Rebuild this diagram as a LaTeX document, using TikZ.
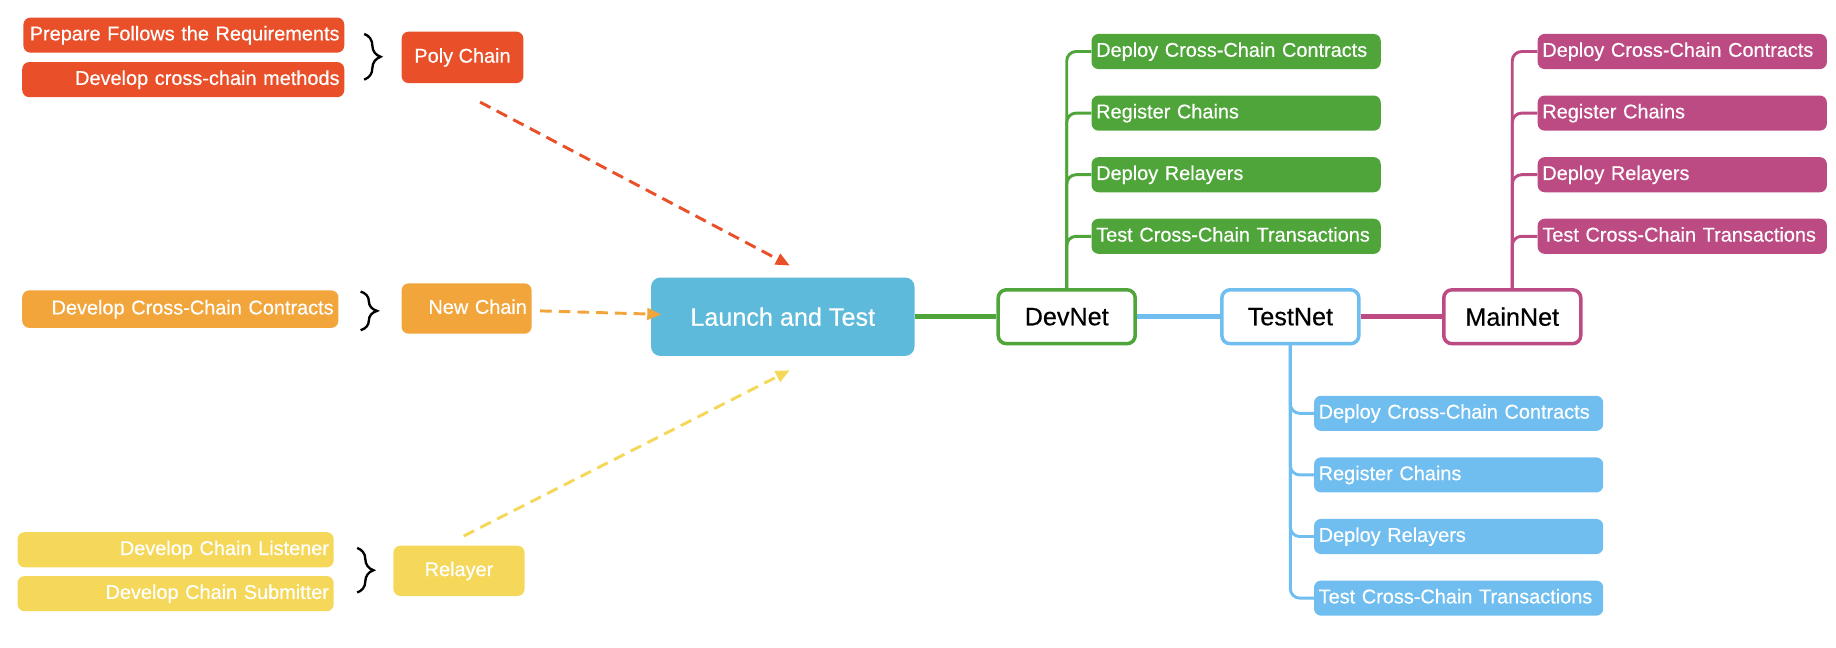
\documentclass[tikz,border=0pt]{standalone}
\usepackage{fontspec}
\setmainfont{Liberation Sans}[FakeBold=0.4]
\usepackage{tikz}
\usetikzlibrary{arrows.meta,decorations.pathreplacing}
\definecolor{polyred}{RGB}{233,80,42}
\definecolor{neworange}{RGB}{241,165,59}
\definecolor{relayyellow}{RGB}{245,216,90}
\definecolor{launchblue}{RGB}{93,186,219}
\definecolor{devgreen}{RGB}{80,165,58}
\definecolor{testblue}{RGB}{112,190,240}
\definecolor{mainpink}{RGB}{188,75,132}
\tikzstyle{box}=[rounded corners=6pt,text=white,inner sep=4pt,text height=12.5pt,text depth=3.5pt,font=\fontsize{17}{19}\selectfont]
\tikzstyle{item}=[box,minimum height=30pt,align=right]
\tikzstyle{chain}=[box,minimum height=44pt]
\tikzstyle{net}=[draw,fill=white,line width=3pt,rounded corners=7pt,minimum width=117pt,minimum height=46pt,font=\fontsize{21.5}{24}\selectfont]
\tikzstyle{task}=[box,anchor=west,minimum height=30pt,text width=239pt,align=left]
\tikzstyle{branch}=[line width=2.5pt,rounded corners=8pt]
\tikzstyle{link}=[line width=4.5pt]
\tikzstyle{flow}=[line width=2.5pt,dash pattern=on 10pt off 6pt,-{Triangle[length=12pt,width=10pt]}]
\tikzstyle{curly}=[decorate,decoration={brace,amplitude=14pt},line width=2pt]

\begin{document}
\begin{tikzpicture}[x=1pt,y=-1pt]
    \useasboundingbox (0,0) rectangle (1568,553.4);
    % sources
    \node[item,fill=polyred,text width=266pt] (prep) at (157,30) {Prepare Follows the Requirements};
    \node[item,fill=polyred,text width=267pt] (methods) at (156.5,68) {Develop cross-chain methods};
    \node[item,fill=neworange,text width=262pt,minimum height=32pt] (contracts) at (154,264) {Develop Cross-Chain Contracts};
    \node[item,fill=relayyellow,text width=262pt] (listener) at (150,469.5) {Develop Chain Listener};
    \node[item,fill=relayyellow,text width=262pt] (submitter) at (150,507) {Develop Chain Submitter};
    \draw[curly] (311,29) -- (311,68);
    \draw[curly] (308,249) -- (308,282);
    \draw[curly] (305,468) -- (305,506);
    \node[chain,fill=polyred,minimum width=104pt] (poly) at (395,49) {Poly Chain};
    \node[chain,fill=neworange,text width=103pt,align=right,minimum height=43pt] (newchain) at (398.5,263.5) {New Chain};
    \node[chain,fill=relayyellow,minimum width=112pt,minimum height=43pt] (relayer) at (392,487.5) {Relayer};
    % launch and networks
    \node[rounded corners=8pt,fill=launchblue,text=white,minimum width=225pt,minimum height=67pt,font=\fontsize{21.5}{24}\selectfont] (launch) at (668.5,270.5) {Launch and Test};
    \node[net,draw=devgreen] (devnet) at (911,270.5) {DevNet};
    \node[net,draw=testblue] (testnet) at (1102,270.5) {TestNet};
    \node[net,draw=mainpink] (mainnet) at (1291.5,270.5) {MainNet};
    \draw[link,devgreen] (launch) -- (devnet);
    \draw[link,testblue] (devnet) -- (testnet);
    \draw[link,mainpink] (testnet) -- (mainnet);
    \draw[flow,polyred] ([xshift=15pt,yshift=-16pt]poly.south) -- ([xshift=6pt,yshift=10pt]launch.north);
    \draw[flow,neworange] ([xshift=7pt,yshift=-2pt]newchain.east) -- ([xshift=9pt,yshift=2pt]launch.west);
    \draw[flow,relayyellow] ([xshift=4pt,yshift=8pt]relayer.north) -- ([xshift=6pt,yshift=-12pt]launch.south);
    % tasks of every network
    \foreach \lbl [count=\i] in {Deploy Cross-Chain Contracts, Register Chains, Deploy Relayers, Test Cross-Chain Transactions}{
        \node[task,fill=devgreen] (dev\i) at (932,{44+52.6*(\i-1)}) {\lbl};
        \draw[branch,devgreen] (devnet.north) |- (dev\i.west);
        \node[task,fill=mainpink] (main\i) at (1313,{44+52.6*(\i-1)}) {\lbl};
        \draw[branch,mainpink] (mainnet.north) |- (main\i.west);
        \node[task,fill=testblue] (test\i) at (1122,{353+52.6*(\i-1)}) {\lbl};
        \draw[branch,testblue] (testnet.south) |- (test\i.west);
    }
\end{tikzpicture}
\end{document}
